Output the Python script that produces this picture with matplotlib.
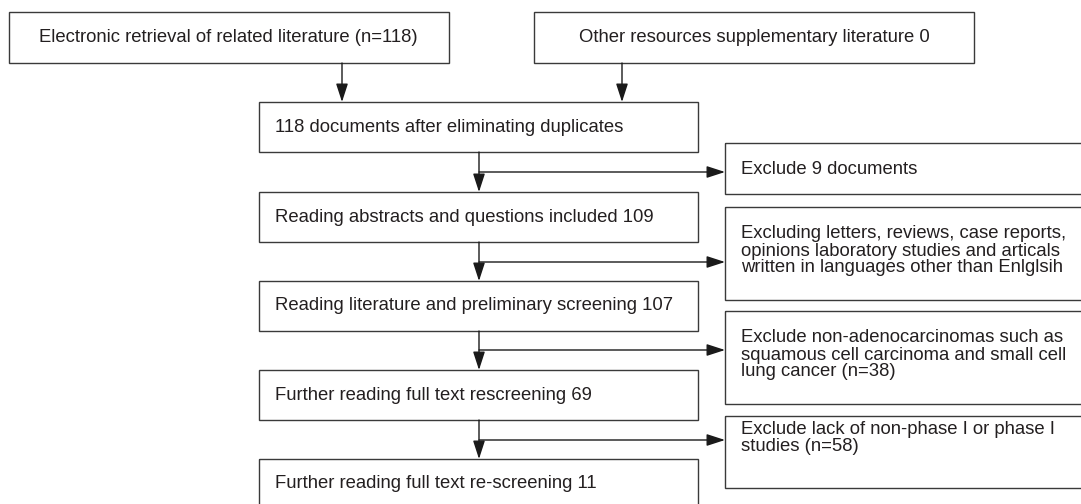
import matplotlib
matplotlib.use("Agg")
import matplotlib.pyplot as plt
from matplotlib.patches import Rectangle

# Textos do fluxograma
fontes = [
    "Electronic retrieval of related literature (n=118)",
    "Other resources supplementary literature 0",
]
etapas = [
    "118 documents after eliminating duplicates",
    "Reading abstracts and questions included 109",
    "Reading literature and preliminary screening 107",
    "Further reading full text rescreening 69",
    "Further reading full text re-screening 11",
]
exclusoes = [
    "Exclude 9 documents",
    "Excluding letters, reviews, case reports,\nopinions laboratory studies and articals\nwritten in languages other than Enlglsih",
    "Exclude non-adenocarcinomas such as\nsquamous cell carcinoma and small cell\nlung cancer (n=38)",
    "Exclude lack of non-phase I or phase I\nstudies (n=58)",
]

# Layout (pixels, y para baixo)
W, H = 1081, 504
fontes_x = [(8.6, 449), (534, 974)]
fontes_y = (12, 63)
fontes_seta_x = [342, 622]

etapa_x = (259, 698)
etapa_topo = [102, 192, 281, 370, 459]
etapa_alt = 50
seta_x = 479
ramo_y = [172, 262, 350, 440]

excl_x0 = 725
excl_caixas = [(143, 194), (207, 300), (311, 404), (416, 488)]
excl_texto_y = [169, 251, 355, 438]

cor_linha = "#3a3a3a"
cor_texto = "#231f20"
lw = 1.0
fs = 13.3

plt.rcParams["font.family"] = ["Liberation Sans", "DejaVu Sans"]

fig = plt.figure(figsize=(W / 100, H / 100), dpi=100)
ax = fig.add_axes([0, 0, 1, 1])
ax.set_xlim(0, W)
ax.set_ylim(H, 0)
ax.axis("off")


def caixa(x0, x1, y0, y1):
    ax.add_patch(Rectangle((x0, y0), x1 - x0, y1 - y0, fill=False,
                           edgecolor=cor_linha, linewidth=lw))


def seta(x0, y0, x1, y1):
    ax.annotate("", xy=(x1, y1), xytext=(x0, y0),
                arrowprops=dict(arrowstyle="-|>,head_length=0.8,head_width=0.26",
                                color="#1a1a1a", lw=lw, shrinkA=0, shrinkB=0,
                                mutation_scale=14))


# Caixas de origem
for (x0, x1), texto, sx in zip(fontes_x, fontes, fontes_seta_x):
    caixa(x0, x1, *fontes_y)
    ax.text((x0 + x1) / 2, sum(fontes_y) / 2, texto, ha="center", va="center",
            fontsize=fs, color=cor_texto)
    seta(sx, fontes_y[1], sx, etapa_topo[0])

# Etapas principais
for i, (topo, texto) in enumerate(zip(etapa_topo, etapas)):
    caixa(etapa_x[0], etapa_x[1], topo, topo + etapa_alt)
    ax.text(etapa_x[0] + 16, topo + etapa_alt / 2, texto, ha="left", va="center",
            fontsize=fs, color=cor_texto)
    if i < len(etapa_topo) - 1:
        seta(seta_x, topo + etapa_alt, seta_x, etapa_topo[i + 1])

# Exclusoes
for (y0, y1), ty, ry, texto in zip(excl_caixas, excl_texto_y, ramo_y, exclusoes):
    caixa(excl_x0, W + 10, y0, y1)
    ax.text(excl_x0 + 16, ty, texto, ha="left", va="center", fontsize=fs,
            color=cor_texto, linespacing=1.0)
    seta(seta_x, ry, excl_x0, ry)

fig.savefig("out.png", dpi=100)
